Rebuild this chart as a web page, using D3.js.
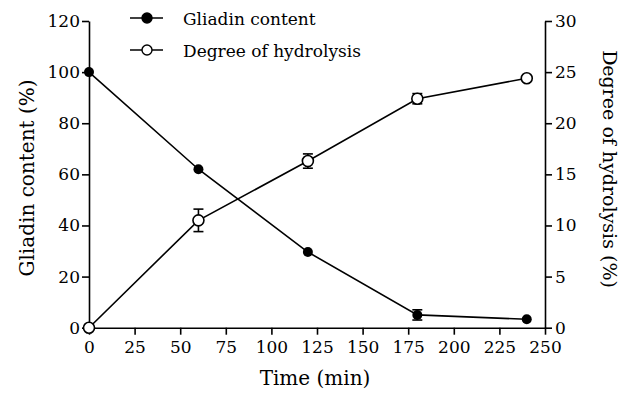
<!DOCTYPE html>
<html><head><meta charset="utf-8">
<script src="https://cdn.jsdelivr.net/npm/d3@7"></script>
<style>body{margin:0;background:#fff}svg{display:block}</style>
</head><body><svg id="c" width="623" height="399"></svg>
<script>
const times = [0, 60, 120, 180, 240];
const gliadin = [100, 62, 29.6, 5, 3.3];
const gliadinErr = [0, 0, 0, 2, 0];
const hydrolysis = [0, 10.5, 16.3, 22.4, 24.4];
const hydrolysisErr = [0, 1.1, 0.7, 0.5, 0];
const xTicks = [0, 25, 50, 75, 100, 125, 150, 175, 200, 225, 250];
const yLeftTicks = [0, 20, 40, 60, 80, 100, 120];
const yRightTicks = [0, 5, 10, 15, 20, 25, 30];
const seriesNames = ["Gliadin content", "Degree of hydrolysis"];

const FONT = "DejaVu Serif";
const svg = d3.select("#c");
const x = d3.scaleLinear().domain([0, 250]).range([89, 545]);
const yL = d3.scaleLinear().domain([0, 120]).range([327.7, 21]);
const yR = d3.scaleLinear().domain([0, 30]).range([327.7, 21]);
const fs = 17;

function styleAxis(g){
  g.attr("font-family", FONT).attr("font-size", fs);
  g.select(".domain").attr("stroke","#000").attr("stroke-width",1.6);
  g.selectAll(".tick line").attr("stroke","#000").attr("stroke-width",1.6);
  g.selectAll(".tick text").attr("font-family", FONT).attr("font-size", fs).attr("fill","#000");
}
svg.append("g").attr("transform","translate(0,327.7)")
  .call(d3.axisBottom(x).tickValues(xTicks).tickSize(7).tickSizeOuter(0).tickPadding(6))
  .call(styleAxis);
svg.append("g").attr("transform","translate(89,0)")
  .call(d3.axisLeft(yL).tickValues(yLeftTicks).tickSize(7).tickSizeOuter(0).tickPadding(2))
  .call(styleAxis);
svg.append("g").attr("transform","translate(545,0)")
  .call(d3.axisRight(yR).tickValues(yRightTicks).tickSize(7).tickSizeOuter(0).tickPadding(3))
  .call(styleAxis);

const lineL = d3.line().x((d,i)=>x(times[i])).y(d=>yL(d));
const lineR = d3.line().x((d,i)=>x(times[i])).y(d=>yR(d));

svg.append("path").attr("d",lineR(hydrolysis)).attr("fill","none").attr("stroke","#000").attr("stroke-width",1.6);
const eb = (g, ys, errs, sc) => {
  ys.forEach((v,i)=>{
    if(!errs[i]) return;
    const cx = x(times[i]);
    g.append("line").attr("x1",cx).attr("x2",cx).attr("y1",sc(v-errs[i])).attr("y2",sc(v+errs[i])).attr("stroke","#000").attr("stroke-width",1.6);
    [v-errs[i], v+errs[i]].forEach(e=>g.append("line").attr("x1",cx-5).attr("x2",cx+5).attr("y1",sc(e)).attr("y2",sc(e)).attr("stroke","#000").attr("stroke-width",1.6));
  });
};
eb(svg, hydrolysis, hydrolysisErr, yR);
svg.selectAll(".hp").data(hydrolysis).enter().append("circle")
  .attr("cx",(d,i)=>x(times[i])).attr("cy",d=>yR(d)).attr("r",5.5)
  .attr("fill","#fff").attr("stroke","#000").attr("stroke-width",1.6);

svg.append("path").attr("d",lineL(gliadin)).attr("fill","none").attr("stroke","#000").attr("stroke-width",1.6);
eb(svg, gliadin, gliadinErr, yL);
svg.selectAll(".gp").data(gliadin).enter().append("circle")
  .attr("cx",(d,i)=>x(times[i])).attr("cy",d=>yL(d)).attr("r",5)
  .attr("fill","#000");

const txt = (s)=>svg.append("text").attr("font-family",FONT).attr("fill","#000").text(s);
txt("Time (min)").attr("x",315).attr("y",385).attr("text-anchor","middle").attr("font-size",20);
txt("Gliadin content (%)").attr("transform","translate(34,178) rotate(-90)").attr("text-anchor","middle").attr("font-size",20);
txt("Degree of hydrolysis (%)").attr("transform","translate(603,169) rotate(90)").attr("text-anchor","middle").attr("font-size",19);

const leg = [{y:18, fill:"#000", r:5}, {y:50, fill:"#fff", r:5}];
leg.forEach((l,i)=>{
  svg.append("line").attr("x1",130).attr("x2",163).attr("y1",l.y).attr("y2",l.y).attr("stroke","#000").attr("stroke-width",1.6);
  svg.append("circle").attr("cx",147).attr("cy",l.y).attr("r",l.r).attr("fill",l.fill).attr("stroke","#000").attr("stroke-width",1.4);
  txt(seriesNames[i]).attr("x",183).attr("y",l.y+7).attr("font-size",17);
});
</script></body></html>
